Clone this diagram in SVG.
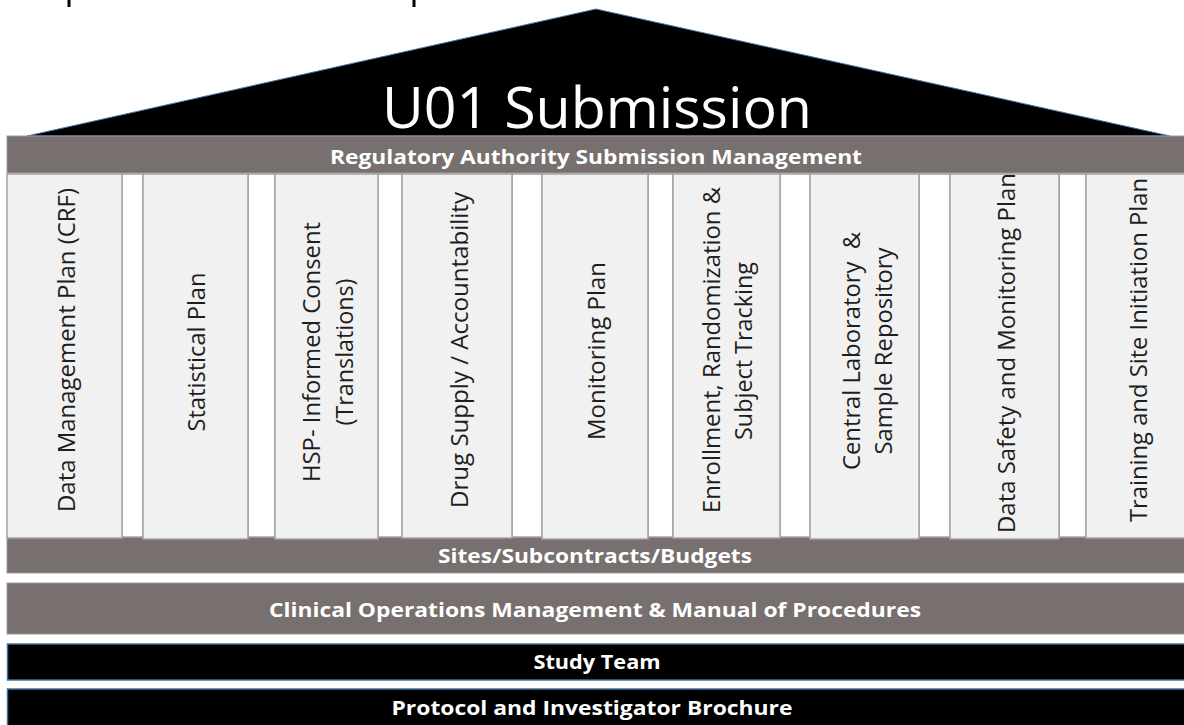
<svg xmlns="http://www.w3.org/2000/svg" width="1184" height="725" viewBox="0 0 1184 725">
<style>
.band{fill:#77706f;stroke:#9e9a99;stroke-width:1}
.dark{fill:#000;stroke:#41719c;stroke-width:1.5}
.pillar{fill:#f1f1f1;stroke:#a3a3a3;stroke-width:1.5}
.gap{fill:#fff;stroke:#a3a3a3;stroke-width:1.5}
.bt{font-family:"Open Sans","Liberation Sans",sans-serif;font-weight:bold;font-size:19px;fill:#fff;text-anchor:middle}
.pt{font-family:"Open Sans","Liberation Sans",sans-serif;font-size:24px;fill:#1e1e1e;text-anchor:middle;white-space:pre}
</style>
<rect width="1184" height="725" fill="#fff"/>
<g id="cutoff">
<rect x="67.5" y="0" width="3" height="7" fill="#000"/>
<rect x="412.5" y="0" width="3" height="7" fill="#000"/>
</g>
<g id="roof">
<polygon points="27,136 596,9 1170,136" fill="#000" stroke="#4a78a8" stroke-width="1"/>
<text x="597" y="128" font-family="'Open Sans','Liberation Sans',sans-serif" font-size="56" fill="#fff" text-anchor="middle" textLength="430" lengthAdjust="spacingAndGlyphs">U01 Submission</text>
</g>
<g id="sites">
<rect class="band" x="7" y="536" width="1190" height="37"/>
<text class="bt" x="595" y="563" textLength="314" lengthAdjust="spacingAndGlyphs">Sites/Subcontracts/Budgets</text>
</g>
<g id="gaps">
<rect class="gap" x="122" y="174" width="21" height="363"/>
<rect class="gap" x="248" y="174" width="27" height="363"/>
<rect class="gap" x="378" y="174" width="24" height="363"/>
<rect class="gap" x="512" y="174" width="30" height="363"/>
<rect class="gap" x="648" y="174" width="25" height="363"/>
<rect class="gap" x="780" y="174" width="30" height="363"/>
<rect class="gap" x="919" y="174" width="31" height="363"/>
<rect class="gap" x="1059" y="174" width="27" height="363"/>
</g>
<g id="p1"><rect class="pillar" x="7" y="174" width="115" height="364"/>
<text class="pt" transform="translate(75,350) rotate(-90)" textLength="324" lengthAdjust="spacingAndGlyphs">Data Management Plan (CRF)</text></g>
<g id="p2"><rect class="pillar" x="143" y="174" width="105" height="365"/>
<text class="pt" transform="translate(205,352) rotate(-90)" textLength="159" lengthAdjust="spacingAndGlyphs">Statistical Plan</text></g>
<g id="p3"><rect class="pillar" x="275" y="174" width="103" height="365"/>
<text class="pt" transform="translate(320,352) rotate(-90)" textLength="260" lengthAdjust="spacingAndGlyphs">HSP- Informed Consent</text>
<text class="pt" transform="translate(353,352) rotate(-90)" textLength="147" lengthAdjust="spacingAndGlyphs">(Translations)</text></g>
<g id="p4"><rect class="pillar" x="402" y="174" width="110" height="364"/>
<text class="pt" transform="translate(468,350) rotate(-90)" textLength="316" lengthAdjust="spacingAndGlyphs">Drug Supply / Accountability</text></g>
<g id="p5"><rect class="pillar" x="542" y="174" width="106" height="365"/>
<text class="pt" transform="translate(605,351) rotate(-90)" textLength="178" lengthAdjust="spacingAndGlyphs">Monitoring Plan</text></g>
<g id="p6"><rect class="pillar" x="673" y="174" width="107" height="364"/>
<text class="pt" transform="translate(720,350) rotate(-90)" textLength="326" lengthAdjust="spacingAndGlyphs">Enrollment, Randomization &amp;</text>
<text class="pt" transform="translate(752,351) rotate(-90)" textLength="178" lengthAdjust="spacingAndGlyphs">Subject Tracking</text></g>
<g id="p7"><rect class="pillar" x="810" y="174" width="109" height="365"/>
<text class="pt" transform="translate(860,351) rotate(-90)" textLength="238" lengthAdjust="spacingAndGlyphs" xml:space="preserve">Central Laboratory  &amp;</text>
<text class="pt" transform="translate(892,351) rotate(-90)" textLength="207" lengthAdjust="spacingAndGlyphs">Sample Repository</text></g>
<g id="p8"><rect class="pillar" x="950" y="174" width="109" height="365"/>
<text class="pt" transform="translate(1015,353) rotate(-90)" textLength="360" lengthAdjust="spacingAndGlyphs">Data Safety and Monitoring Plan</text></g>
<g id="p9"><rect class="pillar" x="1086" y="174" width="110" height="364"/>
<text class="pt" transform="translate(1147,350) rotate(-90)" textLength="344" lengthAdjust="spacingAndGlyphs">Training and Site Initiation Plan</text></g>
<g id="regulatory">
<rect class="band" x="7" y="136" width="1190" height="37"/>
<text class="bt" x="596" y="164" font-size="18" textLength="532" lengthAdjust="spacingAndGlyphs">Regulatory Authority Submission Management</text>
</g>
<g id="clinical">
<rect class="band" x="7" y="583" width="1190" height="51"/>
<text class="bt" x="595" y="617" textLength="652" lengthAdjust="spacingAndGlyphs">Clinical Operations Management &amp; Manual of Procedures</text>
</g>
<g id="team">
<rect class="dark" x="7.5" y="644" width="1190" height="36"/>
<text class="bt" x="597" y="669" textLength="127" lengthAdjust="spacingAndGlyphs">Study Team</text>
</g>
<g id="protocol">
<rect class="dark" x="7.5" y="689" width="1190" height="50"/>
<text class="bt" x="592" y="715" textLength="401" lengthAdjust="spacingAndGlyphs">Protocol and Investigator Brochure</text>
</g>
<g id="connectors"/>
</svg>
